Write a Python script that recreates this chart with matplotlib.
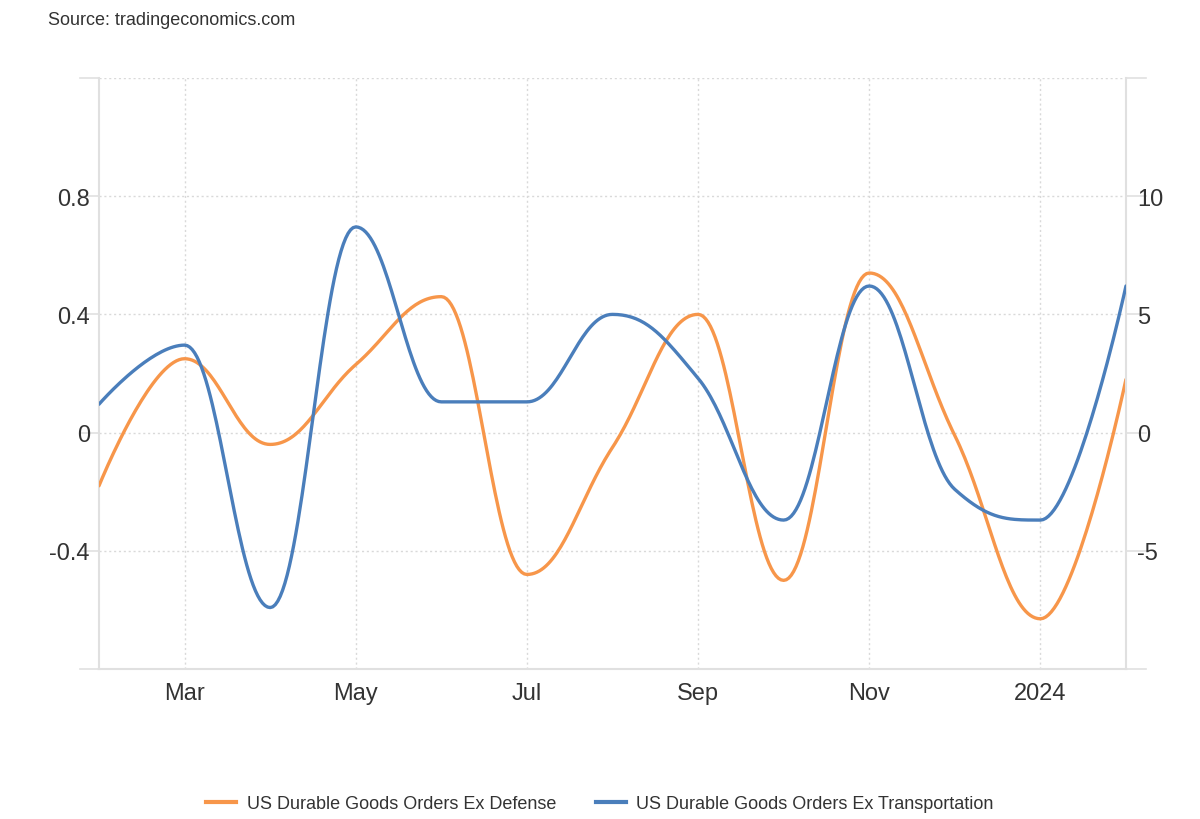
"""US durable goods orders: ex defense vs ex transportation (monthly, % change)."""
import numpy as np
import matplotlib
matplotlib.use("Agg")
import matplotlib.pyplot as plt

plt.rcParams["font.family"] = ["Liberation Sans", "DejaVu Sans"]
plt.rcParams["axes.unicode_minus"] = False

# ── 데이터 (Feb 2023 .. Feb 2024) ─────────────────────────────
months = ["Feb", "Mar", "Apr", "May", "Jun", "Jul", "Aug",
          "Sep", "Oct", "Nov", "Dec", "Jan", "Feb"]
ex_defense = [-0.18, 0.25, -0.04, 0.23, 0.46, -0.48, -0.05,
              0.40, -0.50, 0.54, -0.01, -0.63, 0.18]
ex_transport = [1.2, 3.7, -7.4, 8.7, 1.3, 1.3, 5.0,
                2.3, -3.7, 6.2, -2.4, -3.7, 6.2]

tick_pos = [1, 3, 5, 7, 9, 11]
tick_labels = ["Mar", "May", "Jul", "Sep", "Nov", "2024"]
left_ticks = [-0.4, 0, 0.4, 0.8]
left_tick_labels = ["-0.4", "0", "0.4", "0.8"]
right_ticks = [-5, 0, 5, 10]

ORANGE = "#f7964a"
BLUE = "#4a7ebb"
TEXT = "#333333"
GRID = "#d9d9d9"


def spline(xs, ys, smoothing=1.5, n=40):
    """Highcharts 스타일 spline (bezier, 극점에서 수평 접선)."""
    xs = np.asarray(xs, float)
    ys = np.asarray(ys, float)
    m = len(xs)
    lc = np.column_stack([xs, ys]).copy()
    rc = np.column_stack([xs, ys]).copy()
    d = smoothing + 1
    for i in range(1, m - 1):
        px, py = xs[i], ys[i]
        lx, ly = xs[i - 1], ys[i - 1]
        nx, ny = xs[i + 1], ys[i + 1]
        lcx = (smoothing * px + lx) / d
        lcy = (smoothing * py + ly) / d
        rcx = (smoothing * px + nx) / d
        rcy = (smoothing * py + ny) / d
        if rcx != lcx:
            corr = (rcy - lcy) * (rcx - px) / (rcx - lcx) + py - rcy
            lcy += corr
            rcy += corr
        if lcy > ly and lcy > py:
            lcy = max(ly, py)
            rcy = 2 * py - lcy
        elif lcy < ly and lcy < py:
            lcy = min(ly, py)
            rcy = 2 * py - lcy
        if rcy > ny and rcy > py:
            rcy = max(ny, py)
            lcy = 2 * py - rcy
        elif rcy < ny and rcy < py:
            rcy = min(ny, py)
            lcy = 2 * py - rcy
        lc[i] = (lcx, lcy)
        rc[i] = (rcx, rcy)
    t = np.linspace(0, 1, n)[:, None]
    pts = []
    for i in range(1, m):
        p0 = np.array([xs[i - 1], ys[i - 1]])
        p1, p2 = rc[i - 1], lc[i]
        p3 = np.array([xs[i], ys[i]])
        seg = ((1 - t) ** 3) * p0 + 3 * ((1 - t) ** 2) * t * p1 \
            + 3 * (1 - t) * t ** 2 * p2 + t ** 3 * p3
        pts.append(seg if i == 1 else seg[1:])
    pts = np.vstack(pts)
    return pts[:, 0], pts[:, 1]


x = np.arange(len(months))

fig = plt.figure(figsize=(12, 8.2), dpi=100)
ax = fig.add_axes([0.0825, 0.1829, 0.8558, 0.7208])
ax2 = ax.twinx()

ax.set_xlim(0, 12)
ax.set_ylim(-0.8, 1.2)
ax2.set_ylim(-10, 15)

# grid
for yv in left_ticks + [1.2]:
    ax.axhline(yv, color=GRID, lw=1, ls=(0, (1.5, 2)), zorder=0)
for xv in tick_pos:
    ax.axvline(xv, color=GRID, lw=1, ls=(0, (1.5, 2)), zorder=0)

xs, ys = spline(x, ex_defense)
ax.plot(xs, ys, color=ORANGE, lw=2.4, solid_capstyle="round", zorder=3)
xs2, ys2 = spline(x, ex_transport)
ax2.plot(xs2, ys2, color=BLUE, lw=2.4, solid_capstyle="round", zorder=3)

for a in (ax, ax2):
    for s in a.spines.values():
        s.set_visible(False)
    a.tick_params(colors=TEXT, labelsize=17, length=0)

for a, side in ((ax, "left"), (ax2, "right"), (ax, "bottom")):
    a.spines[side].set_visible(True)
    a.spines[side].set_color("#e0e0e0")
    a.spines[side].set_linewidth(1.5)

ax.set_xticks(tick_pos)
ax.set_xticklabels(tick_labels)
ax.tick_params(axis="x", pad=9)
ax.set_yticks(left_ticks)
ax.set_yticklabels(left_tick_labels)
ax.tick_params(axis="y", pad=6.5)
ax2.set_yticks(right_ticks)
ax2.tick_params(axis="y", pad=8)

# 축 바깥 짧은 눈금선
for yv in [-0.8] + left_ticks + [1.2]:
    ax.plot([-0.22, 0], [yv, yv], color="#e0e0e0", lw=1.2,
            clip_on=False, zorder=1)
for yv in [-10] + right_ticks + [15]:
    ax2.plot([12, 12.23], [yv, yv], color="#e0e0e0", lw=1.2,
             clip_on=False, zorder=1)

fig.text(0.04, 0.9745, "Source: tradingeconomics.com", fontsize=13,
         color=TEXT, va="center", ha="left")

h1, = ax.plot([], [], color=ORANGE, lw=3)
h2, = ax.plot([], [], color=BLUE, lw=3)
fig.legend([h1, h2],
           ["US Durable Goods Orders Ex Defense",
            "US Durable Goods Orders Ex Transportation"],
           loc="center", bbox_to_anchor=(0.5, 0.0185), ncol=2,
           frameon=False, fontsize=13, handlelength=1.65,
           handletextpad=0.6, columnspacing=2.2, labelcolor=TEXT)

fig.savefig("out.png", dpi=100)
